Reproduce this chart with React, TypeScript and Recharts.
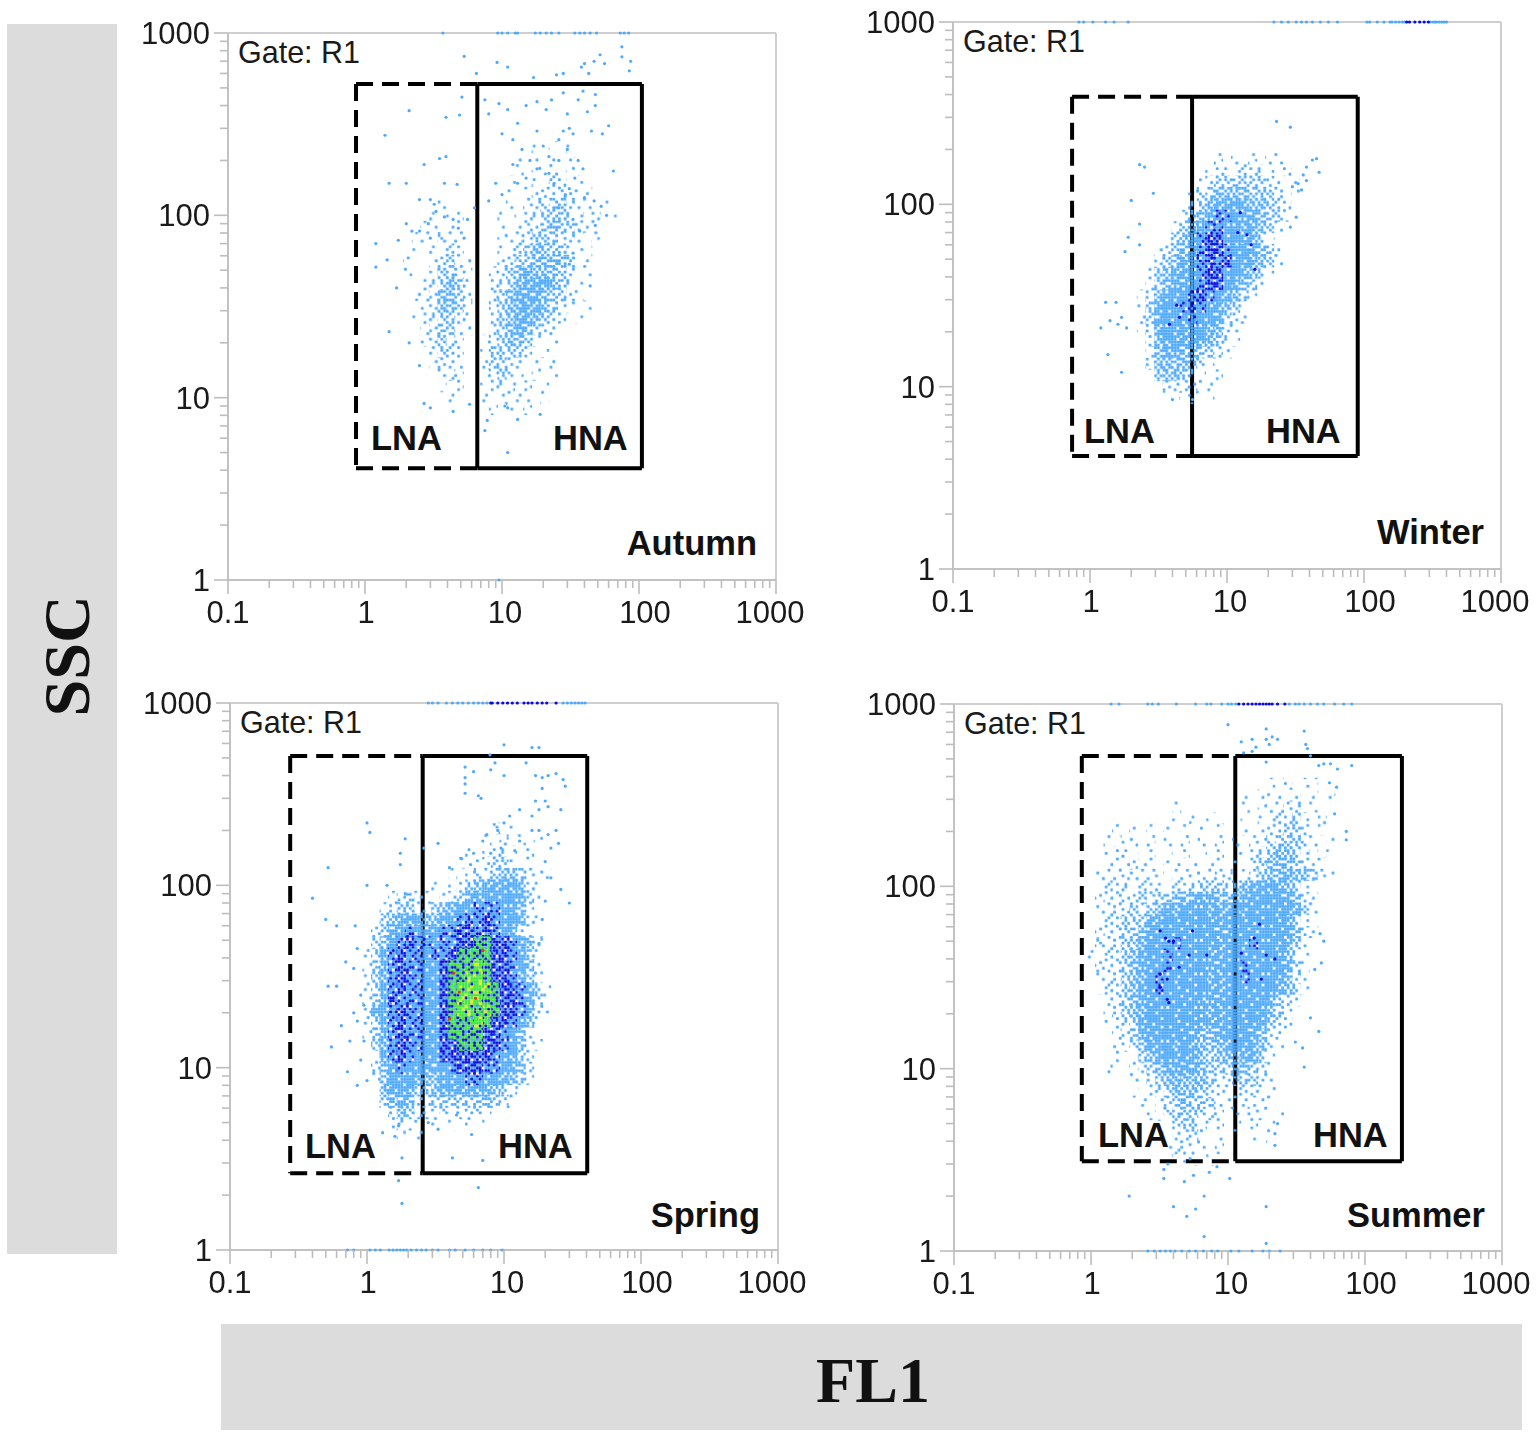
import React from "react";
import { ScatterChart, Scatter, XAxis, YAxis, ReferenceLine } from "recharts";

type Pt = [number, number];

const X_TICKS = [0.1, 0.2, 0.3, 0.4, 0.5, 0.6, 0.7, 0.8, 0.9, 1, 2, 3, 4, 5, 6, 7, 8, 9, 10, 20, 30, 40, 50, 60, 70, 80, 90, 100, 200, 300, 400, 500, 600, 700, 800, 900, 1000];
const Y_TICKS = [1, 2, 3, 4, 5, 6, 7, 8, 9, 10, 20, 30, 40, 50, 60, 70, 80, 90, 100, 200, 300, 400, 500, 600, 700, 800, 900, 1000];
const DECADES = [0.1, 1, 10, 100, 1000];

// density read by eye, 16 bins per decade on both axes, top row first.
// 1-6 light blue getting denser, 7-8 dark blue mixed in, 9 and a the green/yellow core
const autumnDensity = [
  "................1.1.1....",
  "..............1.1.1.1....",
  "..............1.111.1....",
  ".............11.1.21.1...",
  ".............1.12222211..",
  ".....1.......1.12233211.1",
  "....1.11....1.1223332211.1",
  "...11.11....1.1223433211..",
  "..11.211....1122333221.1..",
  "..1.1221....12234433111...",
  ".1..12311...223344443.1...",
  ".1..13321..1234544432.1...",
  "...123431..12345554321....",
  "..1124432..23455543321....",
  "...124431..2345554321.1...",
  "..1123321..234554321.1....",
  "...123311..23454321.......",
  "...12321..1234431.1.......",
  "....1321..133331.1........",
  "....1211..23321.1.1.......",
  ".....121..12321.1.1.......",
  ".....1.1..112211.1........",
  "......1...1.1111.1........",
  "...........1.1.1..........",
];
const winterDensity = [
  "..........1.1.1.11",
  ".........12122121.1",
  "........1233333321.1",
  ".......12344443332.1",
  ".......234555544321",
  "......2345776554331",
  ".....2345776655431",
  "....234578866553.1",
  "...123457887665431",
  "...234567878665431",
  "..134556788665431",
  "..13455678865431",
  ".12456678765431",
  ".1356677765431",
  ".1356667665321",
  ".125665665421",
  "..24565554321",
  "..1455443321",
  "..24444321",
  "...344321.1",
  "....222211",
  ".....1.1.1",
];
const springDensity = [
  "................2.1",
  "...............1.2.1.1",
  ".............1.1221.1",
  "............1.12331.1",
  "...........1.1223443211",
  ".........1.12345555421",
  "....12321.123556666531",
  "...223321345667776542",
  "..13455544567778766521",
  "..2356765677887876521",
  "..24678776778899887642",
  ".135787767789999887631",
  ".1357877668999a9887641",
  ".135787766899aa9887531",
  ".13578776689aaaa9887531",
  ".13587776689aaa99887531",
  ".25678776689aa9a9887521",
  ".1357877668999a9887641",
  ".13578776689999887641",
  "..35787766889998876421",
  "..2578766688888876531",
  "..2467665567888776542",
  "..1466654456677665431",
  "...45653345555554321",
  "...3454223333334321",
  "....243211212221",
  "....1211.1.1.1.1",
  ".....1.1",
];
const summerDensity = [
  ".....................1.1.11..",
  "..................1.111.1.1.1",
  "..........1.......1.11122.1..",
  "..........1.1.1...1.122231.1",
  "...1.1.1.1.1.1.1..1.122332.1.",
  "..1.11.1.1.1.1.1.1.11233321.1",
  "..1111.1.1.1.1.1.1112344321.1",
  "..111211.11.1.11.1.234443211.",
  ".11121111.1111122.12344544321",
  ".1212221122223332345655431",
  ".12222323344555444566665421",
  ".12223234556665555666666531",
  ".1223335566666656666666531",
  ".12233466666666556666666421",
  ".2223356667666656667666531",
  "12223456676666556666666421",
  ".2223456676666556676666531",
  ".1223456766666556676666421",
  ".1223456766666555666665431",
  "..12345666666555666665321",
  "..1234566666655566666431",
  "..1123566666655566665321",
  "...12356666654456665421",
  "...11245665654445665421",
  "...1.13456565434445531",
  "..1..12345555433344321",
  ".....11234544432233321",
  ".....1.1234443211222111",
  "......1.12343331112111",
  ".......1.2333221.1111.1",
  "........1.233211.1.1.1",
  "........1.2221.1...1.1",
  ".........12111.1",
  ".........1.11.1",
];

// single events outside the clouds
const autumnDots: Pt[] = [
  [3.7, 1000], [9.3, 1000], [10, 1000], [11, 1000], [12.5, 1000], [13, 1000], [17.5, 1000], [19, 1000], [21, 1000], [23, 1000], [26, 1000], [34, 1000], [37, 1000], [40, 1000], [44, 1000], [49, 1000], [73, 1000], [78, 1000], [84, 1000], [9.5, 1],
  [5.3, 745], [9.2, 690], [11, 650], [6.5, 600], [40, 680], [43, 600], [52, 760], [75, 840], [75, 740], [87, 700], [56, 680], [85, 620], [17, 570], [25, 590], [28, 600], [47, 700], [38, 650],
  [2.1, 375], [5.1, 445], [4.9, 355], [3.9, 345], [1.4, 275], [3.5, 205], [3.9, 210], [2.7, 190], [1.5, 150], [2, 150], [4.7, 148], [3.8, 150], [2.5, 122], [3, 122], [3.2, 115], [6.3, 110], [7.5, 430], [9.5, 410], [11, 380], [8, 360], [13, 320], [15, 400], [18, 420], [21, 380], [23, 430], [28, 470], [30, 360], [36, 430], [39, 480], [48, 460], [48, 400], [42, 370], [60, 310], [54, 280], [45, 290],
  [10, 280], [12, 260], [14, 230], [16, 200], [12, 190], [9, 150], [10, 130], [8, 120], [13, 150], [15, 160], [18, 180], [22, 170], [26, 200], [30, 230], [33, 280], [36, 200], [39, 180], [34, 160], [31, 140], [40, 125], [47, 120], [53, 112], [58, 100], [65, 175], [48, 88], [37, 82], [33, 95], [26, 110], [29, 130], [24, 150], [22, 210], [28, 290], [31, 300], [26, 260], [20, 240], [18, 290],
  [1.2, 70], [1.45, 57], [1.2, 52], [1.75, 73], [2, 90], [2.2, 82], [2.5, 82], [2.9, 90], [3, 75], [3.3, 105], [3.8, 98], [4.4, 95], [4.8, 85], [5.3, 75], [5.6, 95], [1.7, 40], [1.5, 23], [2.1, 20], [2.5, 15], [4.4, 8.4], [3, 8.8], [2.7, 9.3], [5.8, 9.2],
  [10.5, 9], [11, 8.8], [13, 7.6], [19, 8.1], [7.8, 7.5], [7.5, 6.6], [11, 5], [44, 41], [31, 54], [33, 62]
];
const winterDots: Pt[] = [
  [0.83, 1000], [0.9, 1000], [1.05, 1000], [1.3, 1000], [1.5, 1000], [1.9, 1000], [22, 1000], [25, 1000], [28, 1000], [32, 1000], [35, 1000], [38, 1000], [42, 1000], [48, 1000], [55, 1000], [64, 1000], [105, 1000], [110, 1000], [125, 1000], [140, 1000], [155, 1000], [160, 1000], [170, 1000], [180, 1000], [190, 1000], [198, 1000], [305, 1000], [320, 1000], [330, 1000], [340, 1000], [355, 1000], [370, 1000], [385, 1000], [400, 1000],
  [23, 285], [29, 265], [2.3, 165], [2.5, 160], [2, 105], [2.3, 78], [2.9, 115], [1.8, 55], [1.9, 66], [2.3, 60], [1.3, 29], [1.55, 29], [1.2, 21], [1.4, 23], [1.6, 22], [1.7, 24], [1.85, 21], [1.35, 15], [1.7, 12], [4, 8.5], [5.6, 8.5],
  [30, 125], [33, 130], [35, 120], [36, 145], [38, 135], [45, 178], [47, 150], [38, 160], [42, 175], [32, 85], [29, 75]
];
const winterDark: Pt[] = [[205, 1000], [215, 1000], [235, 1000], [255, 1000], [275, 1000], [295, 1000], [4.3, 28], [4.5, 24], [3.8, 22], [12, 70], [14, 68], [15, 60], [12.5, 90], [16, 44]];
const springDots: Pt[] = [
  [2.8, 1000], [3, 1000], [3.3, 1000], [3.8, 1000], [4.2, 1000], [4.6, 1000], [5, 1000], [5.5, 1000], [6, 1000], [6.5, 1000], [7, 1000], [7.5, 1000], [27, 1000], [29, 1000], [31, 1000], [33, 1000], [35, 1000], [37, 1000], [39, 1000],
  [0.72, 1], [0.8, 1], [1.05, 1], [1.15, 1], [1.25, 1], [1.45, 1], [1.55, 1], [1.65, 1], [1.75, 1], [1.85, 1], [1.95, 1], [2.1, 1], [2.3, 1], [2.5, 1], [2.7, 1], [3, 1], [3.3, 1], [4, 1], [4.4, 1], [5.2, 1], [6, 1], [7, 1], [8, 1], [9.7, 1],
  [10, 590], [16, 570], [18, 570], [7.9, 520], [8.6, 470], [14.5, 470], [5.2, 445], [6, 420], [5.2, 390], [5.2, 360], [5.2, 320], [6.5, 310], [6.8, 300], [8, 430], [10, 400], [17, 400], [19, 390], [21, 400], [24, 410], [27, 380], [28, 350], [19, 340], [17, 290], [20, 290], [18, 260], [21, 270], [26, 260], [16, 240], [13, 260], [11, 240], [10, 220], [9, 200], [7.5, 190], [16, 200], [18, 200], [21, 190], [24, 200], [25, 170], [22, 160], [13, 175], [12, 155], [9.5, 160], [8, 150], [7, 175], [6, 150], [5.7, 130], [4.9, 140], [4, 125], [3.3, 170], [2.6, 160], [20, 135], [22, 110], [26, 95], [30, 80], [20, 82], [19, 65], [18, 48], [17, 33], [5.8, 4.3], [4.5, 5.5], [3.3, 4.6], [2.8, 5], [4.2, 3.2], [7, 3.1], [6.5, 2.2], [1.7, 2.4], [1.8, 1.8], [1.3, 4.4], [1.6, 4.2], [1.8, 3.2], [1.7, 4.8],
  [1.0, 220], [1.05, 195], [1.9, 180], [1.75, 150], [0.52, 125], [0.4, 85], [1, 100], [1.4, 100], [1.75, 130], [1.9, 90], [0.5, 65], [0.6, 60], [0.82, 60], [0.85, 45], [0.7, 38], [0.8, 35], [0.52, 28], [0.6, 28], [0.9, 25], [0.8, 20], [0.95, 22], [0.85, 18], [0.75, 14], [0.65, 17], [0.72, 9.5], [0.85, 8], [0.55, 13], [0.9, 11], [0.95, 14], [1, 8.5]
];
const springDark: Pt[] = [[8, 1000], [8.2, 1000], [9, 1000], [9.8, 1000], [10.6, 1000], [11.5, 1000], [12.5, 1000], [14, 1000], [15, 1000], [16, 1000], [17.5, 1000], [19, 1000], [20.5, 1000], [24, 1000]];
const springRed: Pt[] = [[4, 18.5], [4.3, 33], [6.2, 24], [7, 44], [4.7, 26]];
const summerDots: Pt[] = [
  [1.4, 1000], [1.6, 1000], [2.6, 1000], [2.8, 1000], [3.1, 1000], [4.2, 1000], [5.8, 1000], [7, 1000], [7.5, 1000], [9, 1000], [10, 1000], [10.6, 1000], [11.4, 1000], [28, 1000], [31, 1000], [33, 1000], [36, 1000], [40, 1000], [45, 1000], [50, 1000], [60, 1000], [70, 1000], [80, 1000],
  [2.6, 1], [2.9, 1], [3.2, 1], [3.5, 1], [3.8, 1], [4.1, 1], [4.6, 1], [5.2, 1], [5.8, 1], [6.6, 1], [7.6, 1], [8.4, 1], [10.5, 1], [12, 1], [15, 1], [18, 1], [20, 1], [24, 1],
  [19, 1.1], [6.7, 1.2], [5, 1.55], [4, 1.75], [5.8, 1.7], [19, 1.75], [1.9, 2], [6.7, 2], [3.4, 2.5], [3.4, 2.8], [4.8, 2.4], [5.6, 2.6], [7.3, 2.7], [8.3, 2.9], [10.3, 2.5], [22, 3.8], [22, 4.4], [23, 5], [36, 10.2], [31, 14], [35, 13],
  [10, 770], [12.5, 620], [15, 640], [16, 580], [19, 640], [20, 600], [21, 660], [19, 730], [23, 640], [37, 600], [38, 570], [40, 520], [36, 710], [15, 550], [13, 540], [19, 480],
  [46, 460], [50, 470], [56, 470], [63, 440], [80, 460], [62, 350], [55, 370], [73, 200], [73, 180], [60, 250], [47, 55], [50, 50], [48, 38], [43, 35], [46, 16], [40, 19]
];
const summerDark: Pt[] = [[12, 1000], [13, 1000], [14, 1000], [15, 1000], [16, 1000], [17, 1000], [18, 1000], [19, 1000], [20, 1000], [21, 1000], [23, 1000], [26, 1000], [3.2, 57], [3.5, 52], [3.7, 50], [4, 50], [3.2, 33], [3.6, 31], [3.2, 28], [3.6, 24], [3.7, 23], [4.4, 36], [5.5, 57], [5.2, 42], [7, 42], [17, 62], [15.5, 52], [19, 42], [22, 40], [17.5, 31], [12.5, 43]];

const GATES = {
  autumn: { left: 0.86, split: 6.6, right: 105, top: 525, bottom: 4.1 },
  winter: { left: 0.74, split: 5.56, right: 90, top: 389, bottom: 4.16 },
  spring: { left: 0.275, split: 2.55, right: 40.5, top: 512, bottom: 2.64 },
  summer: { left: 0.857, split: 11.3, right: 186, top: 519, bottom: 3.11 },
};

const LIGHT = "#4ea9fb";
const DARK = "#0a0adf";
const GREEN = "#3fe83a";
const YELLOW = "#e6ea2a";
const RED = "#e23a1e";
const X_LABEL_SHIFT: Record<string, number> = { "0.1": 0, "1": 1, "10": 3, "100": 6, "1000": -6 };
const FONT = "'Liberation Sans', Arial, sans-serif";

function XTick({ x, y, payload }: any) {
  const major = DECADES.includes(payload.value);
  return (
    <g>
      <line x1={x} x2={x} y1={y} y2={y + (major ? 14 : 8)} stroke="#bdbdbd" strokeWidth={1.6} />
      {major && (
        <text x={x + X_LABEL_SHIFT[String(payload.value)]} y={y + 43} textAnchor="middle" fontFamily={FONT} fontSize={31} fill="#1a1a1a">
          {payload.value}
        </text>
      )}
    </g>
  );
}

function YTick({ x, y, payload }: any) {
  const major = DECADES.includes(payload.value);
  return (
    <g>
      <line x1={x} x2={x - (major ? 14 : 8)} y1={y} y2={y} stroke="#bdbdbd" strokeWidth={1.6} />
      {major && (
        <text x={x - 18} y={y + 11} textAnchor="end" fontFamily={FONT} fontSize={31} fill="#1a1a1a">
          {payload.value}
        </text>
      )}
    </g>
  );
}

const rows = (pts: Pt[]) => pts.map(([x, y]) => ({ x, y }));
const dot = (r: number, fill: string) => (p: any) => <circle cx={p.cx} cy={p.cy} r={r} fill={fill} />;
const PLOT_W = 548;
const PLOT_H = 547;
const BINS = 16;
const cell = (fill: string) => (p: any) => {
  const w = PLOT_W / 4 / BINS + 0.6;
  const h = PLOT_H / 3 / BINS + 0.6;
  return <rect x={p.cx - w / 2} y={p.cy - h / 2} width={w} height={h} fill={fill} />;
};

// rows of the density table to one list of bin centres per level
function binsOf(density: string[], firstCol: number, topRow: number, level: string) {
  const out: { x: number; y: number }[] = [];
  density.forEach((row, j) => {
    row.split("").forEach((c, i) => {
      if (c === level) out.push({ x: 10 ** ((firstCol + i) / BINS), y: 10 ** ((topRow - j) / BINS) });
    });
  });
  return out;
}

const LEVELS = ["1", "2", "3", "4", "5", "6", "7", "8", "9", "a"];

const PANELS: Record<string, any> = {
  autumn: { density: autumnDensity, firstCol: 4, topRow: 38, dots: [[autumnDots, LIGHT]] },
  winter: { density: winterDensity, firstCol: 5, topRow: 36, dots: [[winterDots, LIGHT], [winterDark, DARK]] },
  spring: { density: springDensity, firstCol: -1, topRow: 37, dots: [[springDots, LIGHT], [springDark, DARK], [springRed, RED]] },
  summer: { density: summerDensity, firstCol: 0, topRow: 41, dots: [[summerDots, LIGHT], [summerDark, DARK]] },
};

function Panel({ name, left, top, title, lx, hx, ly, gx, ty, tEnd }: any) {
  const g = (GATES as any)[name];
  const p = PANELS[name];
  const solid = { stroke: "#000", strokeWidth: 4 };
  const dashed = { stroke: "#000", strokeWidth: 4, strokeDasharray: "17 9" };
  return (
    <>
      <div style={{ position: "absolute", left: left - 90, top: top - 20, filter: "blur(0.35px)" }}>
        <ScatterChart width={90 + PLOT_W + 40} height={20 + PLOT_H + 60} margin={{ top: 20, right: 40, bottom: 0, left: 0 }}>
          <XAxis type="number" dataKey="x" scale="log" domain={[0.1, 1000]} ticks={X_TICKS} interval={0} height={60} tickSize={0} tickMargin={0} tick={<XTick />} stroke="#c2c2c2" strokeWidth={2} />
          <YAxis type="number" dataKey="y" scale="log" domain={[1, 1000]} ticks={Y_TICKS} interval={0} width={90} tickSize={0} tickMargin={0} tick={<YTick />} stroke="#c2c2c2" strokeWidth={2} />
          <ReferenceLine y={1000} stroke="#cfcfcf" strokeWidth={2} />
          <ReferenceLine x={1000} stroke="#cfcfcf" strokeWidth={2} />
          {LEVELS.map((lv) => (
            <Scatter key={lv} data={binsOf(p.density, p.firstCol, p.topRow, lv)} shape={cell(`url(#lv${lv})`)} isAnimationActive={false} />
          ))}
          {p.dots.map(([pts, fill]: any, i: number) => (
            <Scatter key={i} data={rows(pts)} shape={dot(1.6, fill)} isAnimationActive={false} />
          ))}
          <ReferenceLine segment={[{ x: g.left, y: g.top }, { x: g.split, y: g.top }]} {...dashed} />
          <ReferenceLine segment={[{ x: g.left, y: g.bottom }, { x: g.split, y: g.bottom }]} {...dashed} />
          <ReferenceLine segment={[{ x: g.left, y: g.top }, { x: g.left, y: g.bottom }]} {...dashed} />
          <ReferenceLine segment={[{ x: g.split, y: g.top }, { x: g.right, y: g.top }]} {...solid} />
          <ReferenceLine segment={[{ x: g.split, y: g.bottom }, { x: g.right, y: g.bottom }]} {...solid} />
          <ReferenceLine segment={[{ x: g.split, y: g.top }, { x: g.split, y: g.bottom }]} {...solid} />
          <ReferenceLine segment={[{ x: g.right, y: g.top }, { x: g.right, y: g.bottom }]} {...solid} />
        </ScatterChart>
      </div>
      <svg width={1536} height={1438} style={{ position: "absolute", left: 0, top: 0, pointerEvents: "none" }}>
        <text x={gx} y={top + 30} fontFamily={FONT} fontSize={30.5} fill="#1a1a1a">Gate: R1</text>
        <text x={lx} y={ly} fontFamily={FONT} fontSize={34.5} fontWeight="bold" fill="#111">LNA</text>
        <text x={hx} y={ly} fontFamily={FONT} fontSize={34.5} fontWeight="bold" fill="#111">HNA</text>
        <text x={tEnd} y={ty} textAnchor="end" fontFamily={FONT} fontSize={34.5} fontWeight="bold" fill="#111">{title}</text>
      </svg>
    </>
  );
}

// one speckle tile: a grain is drawn when its digit is below the level's threshold
const SPECKLE = [
  "370592648157",
  "826417390624",
  "591835074296",
  "047269815373",
  "683504269805",
  "219783571468",
  "754026903751",
  "936851486290",
  "172497350836",
  "408630729517",
  "853916482642",
  "267158037094",
];
const GRAIN = 2.8;

function grainColor(level: string, v: number) {
  if (level === "a") return v < 5 ? GREEN : v < 7 ? YELLOW : v < 9 ? GREEN : DARK;
  if (level === "9") return v < 6 ? GREEN : v < 9 ? DARK : LIGHT;
  if (level === "8") return v < 6 ? DARK : v < 9 ? LIGHT : null;
  if (level === "7") return v < 3 ? DARK : v < 9 ? LIGHT : null;
  const cut: Record<string, number> = { "1": 1, "2": 2, "3": 4, "4": 6, "5": 8, "6": 9 };
  return v < cut[level] ? LIGHT : null;
}

function Patterns() {
  return (
    <svg width={0} height={0} style={{ position: "absolute" }}>
      <defs>
        {LEVELS.map((lv) => (
          <pattern key={lv} id={`lv${lv}`} patternUnits="userSpaceOnUse" width={GRAIN * 12} height={GRAIN * 12}>
            {SPECKLE.flatMap((row, j) =>
              row.split("").map((c, i) => {
                const fill = grainColor(lv, Number(c));
                return fill ? <rect key={`${i}-${j}`} x={i * GRAIN} y={j * GRAIN} width={GRAIN} height={GRAIN} rx={0.7} fill={fill} /> : null;
              })
            )}
          </pattern>
        ))}
      </defs>
    </svg>
  );
}

export default function App() {
  return (
    <div style={{ position: "absolute", left: 0, top: 0, width: 1536, height: 1438, background: "#fff", overflow: "hidden" }}>
      <Patterns />
      <div style={{ position: "absolute", left: 7, top: 24, width: 110, height: 1230, background: "#dcdcdc" }} />
      <div style={{ position: "absolute", left: 221, top: 1324, width: 1301, height: 106, background: "#dcdcdc" }} />
      <Panel name="autumn" left={228} top={33} title="Autumn" gx={238} lx={371} hx={553} ly={450} ty={555} tEnd={757} />
      <Panel name="winter" left={953} top={22} title="Winter" gx={963} lx={1084} hx={1266} ly={443} ty={544} tEnd={1484} />
      <Panel name="spring" left={230} top={703} title="Spring" gx={240} lx={305} hx={498} ly={1158} ty={1227} tEnd={760} />
      <Panel name="summer" left={954} top={704} title="Summer" gx={964} lx={1098} hx={1313} ly={1147} ty={1227} tEnd={1485} />
      <svg width={1536} height={1438} style={{ position: "absolute", left: 0, top: 0, pointerEvents: "none" }}>
        <text x={873} y={1402} textAnchor="middle" fontFamily="'Liberation Serif', serif" fontSize={64} fontWeight="bold" fill="#111">FL1</text>
        <text transform="translate(89,656) rotate(-90)" textAnchor="middle" fontFamily="'Liberation Serif', serif" fontSize={66} fontWeight="bold" fill="#111">SSC</text>
      </svg>
    </div>
  );
}
